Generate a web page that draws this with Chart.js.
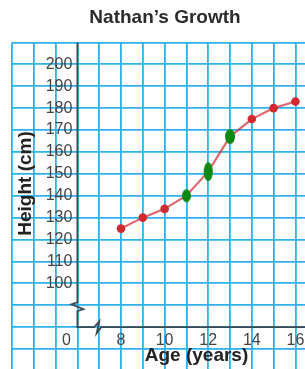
<!DOCTYPE html>
<html><head><meta charset="utf-8">
<script src="https://cdn.jsdelivr.net/npm/chart.js@4"></script>
<style>html,body{margin:0;padding:0;background:#fff}#wrap{width:305px;height:369px;position:relative}</style>
</head><body><div id="wrap"><canvas id="c"></canvas></div>
<script>
// ---- data ----
const ages = [8, 9, 10, 11, 12, 13, 14, 15, 16];
const heights = [125, 130, 134, 140, 151, 167, 175, 180, 183];
const markedAges = [11, 12, 13];
const markedHeights = [140, 151, 167];
const xGridValues = [3, 4, 5, 6, 7, 8, 9, 10, 11, 12, 13, 14, 15, 16];
const xLabelValues = [8, 10, 12, 14, 16];
const originLabel = '0';
const originLabelAt = 5.5;
const yGridValues = [70, 80, 90, 100, 110, 120, 130, 140, 150, 160, 170, 180, 190, 200, 210];
const yLabelValues = [100, 110, 120, 130, 140, 150, 160, 170, 180, 190, 200];
const titleText = 'Nathan\u2019s Growth';
const xTitle = 'Age (years)';
const yTitle = 'Height (cm)';

// ---- styles ----
const GRID = '#2cb1ea';
const AXIS = '#3b4a51';
const FONT = '"Liberation Sans", Arial, Helvetica, sans-serif';
const markerShapes = [[9, 13], [9, 19], [10, 15]];
function ellipse(w, h, color) {
  const c = document.createElement('canvas');
  c.width = w + 2; c.height = h + 2;
  const g = c.getContext('2d');
  g.fillStyle = color;
  g.beginPath();
  g.ellipse((w + 2) / 2, (h + 2) / 2, w / 2, h / 2, 0, 0, Math.PI * 2);
  g.fill();
  return c;
}
const greenStyles = markerShapes.map(s => ellipse(s[0], s[1], '#0b8a12'));

const xTickValues = xGridValues.concat([originLabelAt]).sort((a, b) => a - b);

const decor = {
  id: 'decor',
  beforeDatasetsDraw(chart) {
    const {ctx, scales: {x, y}} = chart;
    const x0 = x.getPixelForValue(6), y0 = y.getPixelForValue(80);
    const yTop = y.getPixelForValue(210);
    const yb = y.getPixelForValue(90), xb = x.getPixelForValue(7);
    ctx.save();
    ctx.strokeStyle = AXIS; ctx.lineWidth = 1.8;
    ctx.beginPath();
    ctx.moveTo(x0, yTop);
    ctx.lineTo(x0, yb - 3);
    ctx.lineTo(x0 - 6, yb - 1);
    ctx.lineTo(x0 + 6, yb + 4);
    ctx.lineTo(x0, yb + 6);
    ctx.lineTo(x0, y0);
    ctx.lineTo(xb - 5, y0);
    ctx.lineTo(xb, y0 - 5.5);
    ctx.lineTo(xb - 2.5, y0 + 6);
    ctx.lineTo(xb + 2, y0);
    ctx.lineTo(x.right, y0);
    ctx.stroke();
    ctx.restore();
  },
  afterDraw(chart) {
    const {ctx} = chart;
    ctx.save();
    ctx.fillStyle = '#2b2b2b';
    ctx.font = 'bold 19px ' + FONT;
    ctx.textAlign = 'center';
    ctx.textBaseline = 'middle';
    ctx.fillText(titleText, 165, 18);
    ctx.fillStyle = '#222';
    ctx.fillText(xTitle, 196.5, 356);
    ctx.translate(25.5, 183.5);
    ctx.rotate(-Math.PI / 2);
    ctx.fillText(yTitle, 0, 0);
    ctx.restore();
  }
};

const zeroPad = s => { s.paddingTop = 0; s.paddingBottom = 0; s.paddingLeft = 0; s.paddingRight = 0; };

new Chart(document.getElementById('c'), {
  type: 'line',
  data: {
    datasets: [
      {
        data: markedAges.map((a, i) => ({x: a, y: markedHeights[i]})),
        showLine: false,
        pointStyle: greenStyles,
        pointRadius: 6,
        order: 0
      },
      {
        data: ages.map((a, i) => ({x: a, y: heights[i]})),
        borderColor: 'rgba(210,40,50,0.7)',
        borderWidth: 2.2,
        backgroundColor: '#d02a30',
        pointBackgroundColor: '#d02a30',
        pointBorderWidth: 0,
        pointRadius: 4.3,
        tension: 0,
        order: 1
      }
    ]
  },
  plugins: [decor],
  options: {
    responsive: true,
    maintainAspectRatio: false,
    animation: false,
    events: [],
    layout: {autoPadding: false, padding: {left: 12, top: 42.4, right: 0, bottom: 0}},
    plugins: {legend: {display: false}, title: {display: false}, tooltip: {enabled: false}},
    scales: {
      x: {
        type: 'linear',
        position: {y: 80},
        min: 3, max: 16.44,
        afterBuildTicks: s => { s.ticks = xTickValues.map(v => ({value: v})); },
        afterFit: zeroPad,
        border: {display: false},
        grid: {
          color: c => (c.tick && Number.isInteger(c.tick.value)) ? GRID : 'rgba(0,0,0,0)',
          lineWidth: 1.8, drawTicks: false
        },
        ticks: {
          autoSkip: false, maxRotation: 0, padding: 4,
          color: '#444', font: {family: FONT, size: 16},
          callback: v => v === originLabelAt ? originLabel : (xLabelValues.includes(v) ? String(v) : '')
        }
      },
      y: {
        type: 'linear',
        position: {x: 5.77},
        min: 60.9, max: 210,
        afterBuildTicks: s => { s.ticks = yGridValues.map(v => ({value: v})); },
        afterFit: zeroPad,
        border: {display: false},
        grid: {color: GRID, lineWidth: 1.8, drawTicks: false},
        ticks: {
          autoSkip: false, padding: 0,
          color: '#444', font: {family: FONT, size: 16},
          callback: v => yLabelValues.includes(v) ? String(v) : ''
        }
      }
    }
  }
});
</script>
</body></html>
